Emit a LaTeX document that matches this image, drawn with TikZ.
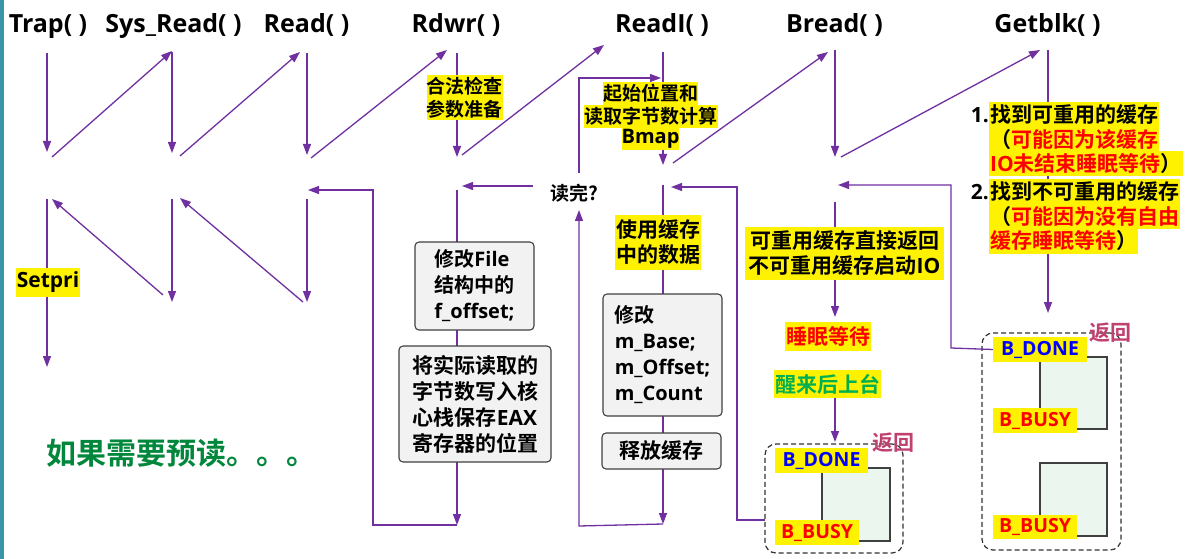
\documentclass[tikz,border=0pt]{standalone}
\usepackage{fontspec}
\setmainfont{Noto Sans CJK SC}[BoldFont=* Bold]
\newfontfamily\lat{Open Sans}[BoldFont=* Bold]
\usetikzlibrary{arrows.meta}

\definecolor{pur}{RGB}{112,48,160}
\definecolor{boxfill}{RGB}{242,242,242}
\definecolor{boxline}{RGB}{64,64,64}
\definecolor{cellfill}{RGB}{235,247,238}
\definecolor{retc}{RGB}{192,64,112}
\definecolor{wakeg}{RGB}{0,176,80}
\definecolor{prefg}{RGB}{0,135,60}
\definecolor{barc}{RGB}{60,148,168}
\definecolor{flagblue}{RGB}{0,0,255}

\begin{document}
\begin{tikzpicture}[x=1pt,y=-1pt,
  link/.style={draw=pur, line width=1.3pt},
  arr/.style={link, -{Triangle[length=11pt,width=8pt]}},
  fname/.style={font=\lat\bfseries\fontsize{25}{30}\selectfont, inner sep=0pt, anchor=base},
  hl/.style={fill=yellow, inner sep=0pt, align=center},
  fa/.style={font=\bfseries\fontsize{19}{23}\selectfont},
  fb/.style={font=\bfseries\fontsize{20}{26}\selectfont},
  fc/.style={font=\bfseries\fontsize{21}{25}\selectfont},
  procbox/.style={draw=boxline, fill=boxfill, line width=1.1pt, rounded corners=4pt, inner sep=0pt},
  bufframe/.style={draw=black!80, dash pattern=on 5pt off 3pt, line width=1.2pt, rounded corners=11pt, inner sep=0pt},
  bufcell/.style={draw=boxline, fill=cellfill, line width=1.2pt, inner sep=0pt},
  flag/.style={fill=yellow, inner sep=0pt, minimum height=25pt, font=\lat\bfseries\fontsize{19.5}{23}\selectfont},
  retlabel/.style={text=retc, font=\bfseries\fontsize{21}{25}\selectfont, inner sep=0pt}
]
\useasboundingbox (0,0) rectangle (1187,559);
\fill[white] (0,0) rectangle (1187,559);
\fill[barc] (0,0) rectangle (4,559);

% function names
\node[fname] (tTrap)   at (48,33)     {Trap( )};
\node[fname] (tSys)    at (173.5,33)  {Sys\_Read( )};
\node[fname] (tRead)   at (306.5,33)  {Read( )};
\node[fname] (tRdwr)   at (456,33)    {Rdwr( )};
\node[fname] (tReadI)  at (662,33)    {ReadI( )};
\node[fname] (tBread)  at (834.5,33)  {Bread( )};
\node[fname] (tGetblk) at (1047.5,33) {Getblk( )};

% end points of the call chain
\coordinate (trapA) at (47,53);   \coordinate (trapB) at (47,152);  \coordinate (trapC) at (52,157);
\coordinate (sysT)  at (172,51);  \coordinate (sysA)  at (172,52);  \coordinate (sysB) at (172,153);  \coordinate (sysC) at (180,156);
\coordinate (readT) at (300,52);  \coordinate (readA) at (307,53);  \coordinate (readB) at (307,155); \coordinate (readC) at (311,158);
\coordinate (rdwrT) at (447,50);  \coordinate (rdwrA) at (457,53);  \coordinate (rdwrB) at (457,157); \coordinate (rdwrC) at (462,155);
\coordinate (rdiT)  at (604,45);  \coordinate (rdiA)  at (663,52);  \coordinate (rdiB) at (663,165);  \coordinate (rdiC) at (673,163);
\coordinate (brdT)  at (828,52);  \coordinate (brdA)  at (835,50);  \coordinate (brdB) at (835,157);  \coordinate (brdC) at (841,157);
\coordinate (gbT)   at (1040,50); \coordinate (gbA)   at (1048,50); \coordinate (gbB) at (1048,313);

% end points of the return chain
\coordinate (trapD) at (47,199);  \coordinate (trapE) at (47,367);  \coordinate (trapR) at (52,199);
\coordinate (sysD)  at (172,199); \coordinate (sysE)  at (172,302); \coordinate (sysR) at (163,295); \coordinate (sysRt) at (180,198);
\coordinate (readD) at (307,199); \coordinate (readE) at (307,302); \coordinate (readR) at (303,302);
\coordinate (readIn) at (308,190);
\coordinate (rdwrD) at (457,190); \coordinate (rdwrE) at (457,525);
\coordinate (rdwrX1) at (373,525); \coordinate (rdwrX2) at (373,190);
\coordinate (dwOut) at (533,186); \coordinate (rdwrIn) at (462,186);
\coordinate (dwUp) at (579,173);  \coordinate (loopA) at (579,78);  \coordinate (rdiLoop) at (661,78);
\coordinate (rdiD) at (663,185);  \coordinate (rdiE) at (663,524);
\coordinate (loopB) at (579,526); \coordinate (dwIn) at (579,210);
\coordinate (brdRet) at (765,520); \coordinate (brdX1) at (737,520); \coordinate (brdX2) at (737,187); \coordinate (rdiIn) at (671,187);
\coordinate (brdD) at (835,202);  \coordinate (brdE) at (835,317);  \coordinate (brdF) at (835,442);
\coordinate (gbX1) at (951,348);  \coordinate (gbX2) at (951,185);  \coordinate (brdIn) at (838,185);

% calls
\draw[arr] (trapA) -- (trapB);
\draw[arr] (trapC) -- (sysT);
\draw[arr] (sysA) -- (sysB);
\draw[arr] (sysC) -- (readT);
\draw[arr] (readA) -- (readB);
\draw[arr] (readC) -- (rdwrT);
\draw[arr] (rdwrA) -- (rdwrB);
\draw[arr] (rdwrC) -- (rdiT);
\draw[arr] (rdiA) -- (rdiB);
\draw[arr] (rdiC) -- (brdT);
\draw[arr] (brdA) -- (brdB);
\draw[arr] (brdC) -- (gbT);
\draw[arr] (gbA) -- (gbB);

% returns
\draw[arr] (trapD) -- (trapE);
\draw[arr] (sysR) -- (trapR);
\draw[arr] (sysD) -- (sysE);
\draw[arr] (readR) -- (sysRt);
\draw[arr] (readD) -- (readE);
\draw[arr] (rdwrD) -- (rdwrE);
\draw[arr] (rdwrE) -- (rdwrX1) -- (rdwrX2) -- (readIn);
\draw[arr] (dwOut) -- (rdwrIn);
\draw[arr] (dwUp) -- (loopA) -- (rdiLoop);
\draw[arr] (rdiD) -- (rdiE);
\draw[arr] (rdiE) -- (loopB) -- (dwIn);
\draw[arr] (brdRet) -- (brdX1) -- (brdX2) -- (rdiIn);
\draw[arr] (brdD) -- (brdE);

% labels on the chain
\node[hl, fa, minimum width=75pt, minimum height=45pt] (chk) at (464.5,97.5) {合法检查\\参数准备};
\node[hl, fa, minimum width=95pt, minimum height=23pt] (pos1) at (650.5,93.5) {起始位置和};
\node[hl, fa, minimum width=134pt, minimum height=23pt] (pos2) at (651,116.5) {读取字节数计算};
\node[hl, font=\lat\bfseries\fontsize{20}{23}\selectfont, minimum width=55pt, minimum height=22pt] (pos3) at (650.5,139) {Bmap};
\node[hl, font=\lat\bfseries\fontsize{21}{25}\selectfont, minimum width=64pt, minimum height=29pt] (setpri) at (48,282.5) {Setpri};
\node[fa, inner sep=0pt] (dw) at (574,193) {读完?};

\node[hl, fc, minimum width=86pt, minimum height=55pt] (use) at (658,242.5) {使用缓存\\中的数据};
\node[hl, fc, minimum width=199pt, minimum height=53pt] (reuse) at (844.5,253.5) {可重用缓存直接返回\\不可重用缓存启动{\lat IO}};
\node[hl, fc, text=red, minimum width=86pt, minimum height=29pt] (sleep) at (828,336.5) {睡眠等待};
\node[hl, fc, text=wakeg, minimum width=107pt, minimum height=28pt] (wake) at (827.5,384) {醒来后上台};
\draw[arr] (wake.south -| brdF) -- (brdF);

% processing boxes
\node[procbox, fb, align=left, minimum width=119pt, minimum height=88pt] (fbox) at (474.5,286)
  {修改{\lat File}\\结构中的\\{\lat f\_offset;}};
\node[procbox, align=center, minimum width=152pt, minimum height=116pt, font=\bfseries\fontsize{21}{26}\selectfont] (eax) at (475,404)
  {将实际读取的\\字节数写入核\\心栈保存{\lat EAX}\\寄存器的位置};
\node[procbox, font=\bfseries\fontsize{20}{26}\selectfont, align=left, minimum width=119pt, minimum height=122pt] (mbox) at (662.5,355)
  {修改\\{\lat m\_Base;}\\{\lat m\_Offset;}\\{\lat m\_Count}};
\node[procbox, fc, minimum width=119pt, minimum height=36pt] (rel) at (661.5,451) {释放缓存};

% buffers returned by Getblk
\node[hl, fc, anchor=west, inner xsep=1pt, minimum height=25pt] (g1) at (989,115) {找到可重用的缓存};
\node[hl, fc, anchor=west, inner xsep=1pt, minimum height=25pt] (g2) at (989,139.5) {（\textcolor{red}{可能因为该缓存}};
\node[hl, fc, anchor=west, inner xsep=1pt, minimum height=25pt] (g3) at (989,164) {\textcolor{red}{{\lat IO}未结束睡眠等待}）};
\node[hl, fc, anchor=west, inner xsep=1pt, minimum height=25pt] (g4) at (989,192) {找到不可重用的缓存};
\node[hl, fc, anchor=west, inner xsep=1pt, minimum height=25pt] (g5) at (989,216.5) {（\textcolor{red}{可能因为没有自由}};
\node[hl, fc, anchor=west, inner xsep=1pt, minimum height=25pt] (g6) at (989,241) {\textcolor{red}{缓存睡眠等待}）};
\node[font=\lat\bfseries\fontsize{21}{25}\selectfont, anchor=east, inner sep=0pt] (n1) at (g1.west) {1.};
\node[font=\lat\bfseries\fontsize{21}{25}\selectfont, anchor=east, inner sep=0pt] (n2) at (g4.west) {2.};

\node[bufframe, minimum width=138pt, minimum height=109pt] (frame1) at (834,498.5) {};
\node[bufframe, minimum width=139pt, minimum height=217pt] (frame2) at (1051.5,441.5) {};
\node[bufcell, minimum width=68pt, minimum height=73pt] (cell1) at (856,504.5) {};
\node[bufcell, minimum width=67pt, minimum height=72pt] (cell2) at (1073.5,393) {};
\node[bufcell, minimum width=67pt, minimum height=73pt] (cell3) at (1073.5,499.5) {};

\node[flag, text=flagblue, minimum width=93pt] (done1) at (821.5,460.5) {B\_DONE};
\node[flag, text=red, minimum width=84pt] (busy1) at (817,532.5) {B\_BUSY};
\node[flag, text=flagblue, minimum width=94pt] (done2) at (1040,349.5) {B\_DONE};
\node[flag, text=red, minimum width=84pt] (busy2) at (1035,420.5) {B\_BUSY};
\node[flag, text=red, minimum width=84pt, minimum height=24pt] (busy3) at (1035,527) {B\_BUSY};

\draw[arr] (done2.west) -- (gbX1) -- (gbX2) -- (brdIn);

\node[retlabel] (ret1) at (893,443) {返回};
\node[retlabel] (ret2) at (1110,333) {返回};

\node[text=prefg, font=\bfseries\fontsize{30}{36}\selectfont, anchor=west, inner sep=0pt] (pre) at (46,453) {如果需要预读。。。};
\end{tikzpicture}
\end{document}
